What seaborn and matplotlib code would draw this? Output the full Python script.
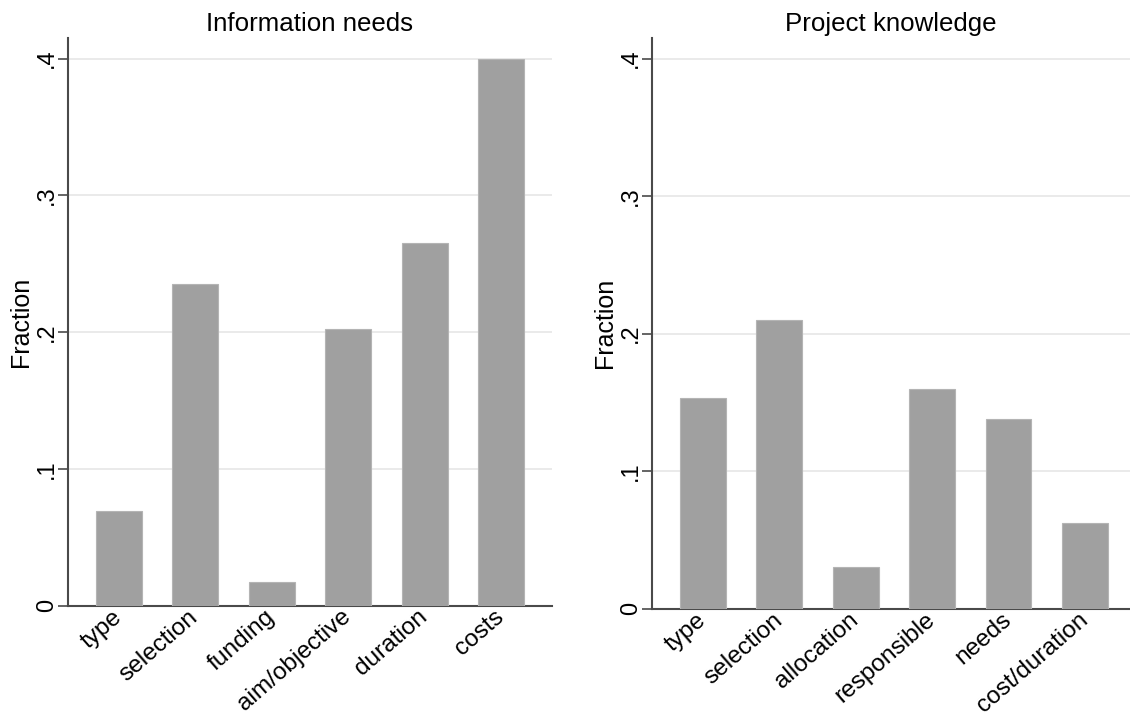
import matplotlib
matplotlib.use("Agg")
import matplotlib.pyplot as plt
import seaborn as sns
import pandas as pd

# Data
info_categories = ["type", "selection", "funding", "aim/objective", "duration", "costs"]
info_values = [0.0695, 0.235, 0.0171, 0.202, 0.2648, 0.400]

proj_categories = ["type", "selection", "allocation", "responsible", "needs", "cost/duration"]
proj_values = [0.153, 0.210, 0.030, 0.160, 0.138, 0.062]

titles = ["Information needs", "Project knowledge"]
y_ticks = [0, 0.1, 0.2, 0.3, 0.4]
y_ticklabels = ["0", ".1", ".2", ".3", ".4"]
y_label = "Fraction"

sns.set_theme(style="white")
plt.rcParams["font.family"] = ["Liberation Sans", "DejaVu Sans"]
plt.rcParams["text.color"] = "black"
plt.rcParams["axes.labelcolor"] = "black"
plt.rcParams["xtick.color"] = "black"
plt.rcParams["ytick.color"] = "black"

W, H = 1130, 718
fig = plt.figure(figsize=(W / 100, H / 100), dpi=100)
fig.patch.set_facecolor("white")

ax1 = fig.add_axes([67.7 / W, 1 - 605.7 / H, 484.3 / W, (605.7 - 38) / H])
ax2 = fig.add_axes([652 / W, 1 - 608.7 / H, (1130 - 652) / W, (608.7 - 38) / H])

bar_color = "#a0a0a0"
grid_color = "#eaeaea"
axis_color = "#4a4a4a"

for ax, cats, vals, title, xr in [
    (ax1, info_categories, info_values, titles[0], 5.664),
    (ax2, proj_categories, proj_values, titles[1], 5.59),
]:
    df = pd.DataFrame({"cat": cats, "val": vals})
    sns.barplot(data=df, x="cat", y="val", ax=ax, color=bar_color,
                width=0.6, saturation=1, edgecolor="#b4b4b4", linewidth=0.8,
                zorder=3)
    ax.set_facecolor("white")
    ax.set_xlim(-0.668, xr)
    ax.set_ylim(0, 0.415)
    ax.set_yticks(y_ticks)
    ax.set_yticklabels(y_ticklabels, rotation=90, va="center", fontsize=17)
    ax.yaxis.grid(True, color=grid_color, linewidth=1.4, zorder=0)
    ax.xaxis.grid(False)
    ax.set_axisbelow(True)
    ax.set_xlabel("")
    ax.set_ylabel(y_label, fontsize=18, labelpad=2, color="black")
    ax.set_title(title, fontsize=18.6, pad=5, color="black")
    for s in ["top", "right"]:
        ax.spines[s].set_visible(False)
    for s in ["left", "bottom"]:
        ax.spines[s].set_color(axis_color)
        ax.spines[s].set_linewidth(1.5)
    ax.tick_params(axis="y", left=True, length=7, width=1.2, color=axis_color,
                   labelcolor="black", pad=0, labelsize=17)
    ax.tick_params(axis="x", bottom=False, length=0, pad=6, labelsize=17.6,
                   labelcolor="black")
    for lbl in ax.get_xticklabels():
        lbl.set_rotation(41)
        lbl.set_ha("right")
        lbl.set_va("center")
        lbl.set_rotation_mode("anchor")

fig.savefig("out.png", dpi=100, facecolor="white")
